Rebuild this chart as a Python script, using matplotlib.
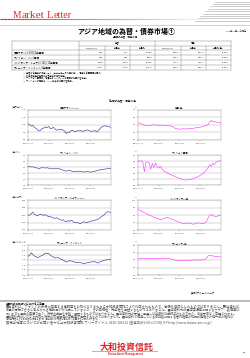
import matplotlib
matplotlib.use('Agg')
import matplotlib.pyplot as plt
from matplotlib.collections import LineCollection
import numpy as np
import pandas as pd

plt.rcParams['font.family'] = ['Noto Sans CJK JP', 'DejaVu Sans']

# ---- data (weekly, 2015/12/31 - 2016/12/30) ----
krw = [10.20, 10.05, 9.85, 9.95, 9.70, 9.55, 9.35, 9.20, 9.30, 9.55, 9.60, 9.75, 9.65,
       9.80, 9.50, 9.55, 9.70, 9.45, 9.30, 9.40, 9.35, 9.45, 9.30, 9.20, 8.85, 9.05,
       9.00, 9.25, 9.30, 9.15, 9.10, 9.25, 9.20, 9.30, 9.15, 9.20, 9.25, 9.35, 9.30,
       9.20, 9.15, 9.20, 9.25, 9.10, 9.20, 9.45, 9.70, 9.80, 9.90, 9.85, 9.80, 9.77, 9.69]
kr_bond = [1.66, 1.62, 1.58, 1.55, 1.50, 1.46, 1.45, 1.45, 1.48, 1.50, 1.52, 1.50, 1.49,
           1.47, 1.50, 1.48, 1.47, 1.46, 1.48, 1.45, 1.44, 1.42, 1.38, 1.30, 1.25, 1.24,
           1.22, 1.23, 1.25, 1.24, 1.23, 1.25, 1.26, 1.25, 1.27, 1.28, 1.32, 1.34, 1.33,
           1.35, 1.38, 1.40, 1.45, 1.48, 1.52, 1.70, 1.80, 1.72, 1.74, 1.70, 1.68, 1.67, 1.64]
php = [2.56, 2.55, 2.50, 2.52, 2.48, 2.45, 2.40, 2.38, 2.42, 2.44, 2.43, 2.42, 2.44,
       2.40, 2.36, 2.34, 2.36, 2.35, 2.37, 2.36, 2.34, 2.30, 2.24, 2.18, 2.16, 2.20,
       2.22, 2.18, 2.14, 2.12, 2.12, 2.14, 2.16, 2.13, 2.10, 2.08, 2.10, 2.12, 2.10,
       2.08, 2.09, 2.12, 2.15, 2.18, 2.22, 2.26, 2.30, 2.30, 2.32, 2.34, 2.36, 2.37, 2.36]
ph_bond = [4.00, 3.98, 4.02, 3.95, 3.10, 3.90, 3.92, 3.85, 3.30, 3.80, 3.45, 3.85, 3.50,
           3.40, 3.55, 3.35, 3.20, 3.10, 3.05, 2.98, 2.90, 2.85, 2.78, 2.72, 2.66, 2.60,
           2.55, 2.50, 2.46, 2.43, 2.42, 2.42, 2.44, 2.47, 2.50, 2.55, 2.60, 2.65, 2.72,
           2.80, 2.88, 2.98, 3.10, 3.25, 3.45, 3.70, 3.55, 3.80, 3.70, 3.90, 3.95, 4.00, 4.02]
idr = [0.852, 0.848, 0.858, 0.870, 0.855, 0.850, 0.845, 0.852, 0.855, 0.850, 0.848, 0.852,
       0.845, 0.838, 0.840, 0.835, 0.830, 0.828, 0.832, 0.825, 0.820, 0.815, 0.818, 0.810,
       0.805, 0.812, 0.808, 0.815, 0.810, 0.800, 0.798, 0.802, 0.795, 0.792, 0.800, 0.805,
       0.802, 0.798, 0.803, 0.808, 0.810, 0.812, 0.815, 0.818, 0.822, 0.830, 0.838, 0.845,
       0.852, 0.865, 0.872, 0.870, 0.868]
id_bond = [8.70, 8.62, 8.55, 8.40, 8.30, 8.20, 8.10, 7.95, 7.90, 7.80, 7.70, 7.65, 7.55,
           7.50, 7.35, 7.40, 7.55, 7.60, 7.70, 7.65, 7.55, 7.45, 7.40, 7.30, 7.20, 7.10,
           7.05, 6.95, 6.90, 6.85, 6.88, 6.95, 6.90, 6.85, 6.80, 6.78, 6.85, 6.92, 6.95,
           6.90, 6.88, 6.85, 6.95, 7.10, 7.60, 7.95, 8.05, 7.90, 7.85, 7.80, 7.85, 7.95, 7.90]
myr = [27.4, 27.8, 28.9, 28.2, 27.6, 27.3, 27.0, 27.2, 27.6, 27.8, 28.3, 28.8, 28.5,
       28.6, 28.0, 27.5, 27.2, 26.8, 26.9, 27.0, 26.5, 26.2, 26.0, 25.6, 25.2, 25.4,
       25.8, 25.6, 25.5, 25.2, 25.0, 24.9, 25.1, 25.0, 24.7, 24.5, 24.7, 24.9, 25.0,
       25.1, 25.3, 25.2, 25.4, 25.0, 24.8, 25.2, 25.5, 25.7, 25.9, 26.0, 26.2, 26.2, 26.1]
my_bond = [3.20, 3.22, 3.18, 3.20, 3.15, 3.18, 3.20, 3.22, 3.18, 3.20, 3.22, 3.20, 3.18,
           3.20, 3.22, 3.24, 3.20, 3.18, 3.20, 3.22, 3.20, 3.10, 3.05, 3.00, 2.98, 2.95,
           2.92, 2.95, 2.98, 2.96, 2.95, 2.97, 2.98, 2.96, 2.98, 3.00, 3.02, 3.00, 2.98,
           3.00, 3.02, 3.05, 3.10, 3.20, 3.55, 3.60, 3.58, 3.55, 3.50, 3.48, 3.46, 3.43, 3.42]

dates = pd.date_range('2015-12-31', periods=len(krw), freq='7D')

# table
row_labels = ['韓国ウォン(×100)/3年国債', 'フィリピン・ペソ/国債',
              'インドネシア・ルピア(×100)/10年国債', 'マレーシア・リンギット/3年国債']
fx_now = ['9.69', '2.36', '0.868', '26.10']
fx_prev = ['9.77', '2.36', '0.872', '26.22']
fx_chg = ['-0.80%', '0.03%', '-0.44%', '-0.47%']
bd_now = ['1.64%', '3.95%', '7.87%', '3.42%']
bd_prev = ['1.67%', '4.03%', '7.88%', '3.43%']
bd_chg = ['-0.03%', '-0.08%', '-0.01%', '-0.01%']
col_heads = ['2016/12/30', '前週末', '前週比', '2016/12/30', '前週末', '前週比(差)']

xtick_dates = ['2015-12-31', '2016-03-31', '2016-06-30', '2016-09-30']
xtick_labels = ['2015/12/31', '2016/3/31', '2016/6/30', '2016/9/30']

RED = '#d42a2a'
NAVY = '#3c3c9c'
PINK = '#ff40ff'

W, H = 250, 358
fig = plt.figure(figsize=(2.5, 3.58), dpi=100)
bg = fig.add_axes([0, 0, 1, 1])
bg.set_xlim(0, W)
bg.set_ylim(H, 0)
bg.axis('off')
renderer = fig.canvas.get_renderer()


def fit(t, width):
    bb = t.get_window_extent(renderer)
    t.set_fontsize(t.get_fontsize() * width / bb.width)
    return t


# ---- header ----
serif = 'Liberation Serif'
fit(bg.text(13, 17.5, 'M', color=RED, fontsize=10, family=serif), 8.5)
fit(bg.text(22, 17.5, 'arket', color=RED, fontsize=7, family=serif), 23)
fit(bg.text(47, 17.5, 'L', color=RED, fontsize=10, family=serif), 6.5)
fit(bg.text(54, 17.5, 'etter', color=RED, fontsize=7, family=serif), 18)

xs = np.linspace(0, 205, 60)
segs = [[(xs[i], 18.6), (xs[i + 1], 18.6)] for i in range(len(xs) - 1)]
alphas = np.linspace(1, 0.05, len(segs))
bg.add_collection(LineCollection(segs, colors=[(0.83, 0.16, 0.16, a) for a in alphas], linewidths=0.8))
bg.plot([0, 250], [24.5, 24.5], color='#c8c8c8', lw=0.6)
for i, y in enumerate(np.arange(1.5, 23, 2.4)):
    bg.plot([215 - i * 2.5, 250], [y, y], color='#b8b8b8', lw=0.5)

bg.text(247, 31, '2016年12月30日現在', fontsize=1.6, ha='right', va='center', color='#333333')
bg.text(126, 31, 'アジア地域の為替・債券市場①', fontsize=5, fontweight='bold', ha='center', va='center')
bg.text(125, 37.5, '1週間の為替・債券市場', fontsize=1.7, ha='center', va='center')

# ---- table ----
L, C1, R = 12, 79, 231
cols = [79, 104.5, 130, 155, 180.5, 206, 231]
ys = [41, 45.5, 50, 55, 60, 65, 70]
lc = '#8a8a8a'
lw = 0.35
bg.plot([L, R], [41, 41], color=lc, lw=lw)
bg.plot([C1, R], [45.5, 45.5], color=lc, lw=lw)
for y in ys[2:]:
    bg.plot([L, R], [y, y], color=lc, lw=lw)
for x in [L, C1, 155, R]:
    bg.plot([x, x], [41, 70], color=lc, lw=lw)
for x in [104.5, 130, 180.5, 206]:
    bg.plot([x, x], [45.5, 70], color=lc, lw=lw)
bg.text(117, 43.3, '為替', fontsize=1.7, ha='center', va='center')
bg.text(193, 43.3, '債券', fontsize=1.7, ha='center', va='center')
for i, h in enumerate(col_heads):
    bg.text((cols[i] + cols[i + 1]) / 2, 47.8, h, fontsize=1.6, ha='center', va='center')
for r in range(4):
    yc = (ys[r + 2] + ys[r + 3]) / 2
    bg.text(14, yc, row_labels[r], fontsize=1.8, ha='left', va='center')
    vals = [fx_now[r], fx_prev[r], fx_chg[r], bd_now[r], bd_prev[r], bd_chg[r]]
    for i, v in enumerate(vals):
        bg.text(cols[i + 1] - 1.5, yc, v, fontsize=1.7, ha='right', va='center')

notes = ['※  為替は各通貨の対円レート（ニューヨーク市場終値）、債券は各国国債利回り。',
         '※  外貨建資産の為替は前営業日の値を使用。',
         '※  フィリピン国債は、償還日が 2026/1/14 の国債の利回りを使用。',
         '※  フィリピンの債券は、12:30時点の利回りを記載。']
for i, n in enumerate(notes):
    bg.text(23, 73.3 + i * 2.7, n, fontsize=1.5, ha='left', va='center')

bg.text(123, 100, '1年間の為替・債券市場', fontsize=1.9, ha='center', va='center')

# ---- charts ----
charts = [
    (0, 0, '韓国ウォン(×100)', '(円/ウォン)', krw, (8, 12), np.arange(8, 12.1, 1.0), '%.1f', NAVY),
    (0, 1, '韓国3年', '%', kr_bond, (0.5, 2.5), np.arange(0.5, 2.6, 0.5), '%.1f', PINK),
    (1, 0, 'フィリピン・ペソ', '(円/ペソ)', php, (1.0, 3.5), np.arange(1.0, 3.6, 0.5), '%.1f', NAVY),
    (1, 1, 'フィリピン国債', '%', ph_bond, (2.0, 4.5), np.arange(2.0, 4.6, 0.5), '%.1f', PINK),
    (2, 0, 'インドネシア・ルピア(×100)', '(円/ルピア)', idr, (0.75, 0.95), np.arange(0.75, 0.951, 0.05), '%.2f', NAVY),
    (2, 1, 'インドネシア10年', '%', id_bond, (6.0, 10.0), np.arange(6, 10.1, 1.0), '%.1f', PINK),
    (3, 0, 'マレーシア・リンギット', '(円/リンギット)', myr, (20, 32), np.arange(20, 32.1, 2.0), '%.1f', NAVY),
    (3, 1, 'マレーシア3年', '%', my_bond, (1.0, 5.0), np.arange(1, 5.1, 1.0), '%.1f', PINK),
]
x0s = [28, 138]
x1s = [111, 221]
tops = [110, 155, 200, 245]
bh = 30
for row, side, title, unit, vals, ylim, yt, fmt, color in charts:
    x0, x1, top = x0s[side], x1s[side], tops[row]
    ax = fig.add_axes([x0 / W, 1 - (top + bh) / H, (x1 - x0) / W, bh / H])
    ax.plot(dates, vals, color=color, lw=0.45)
    ax.set_xlim(pd.Timestamp('2015-12-31'), pd.Timestamp('2016-12-30'))
    ax.set_ylim(*ylim)
    ax.set_yticks(yt)
    ax.set_yticklabels([fmt % v for v in yt])
    ax.set_xticks(pd.to_datetime(xtick_dates))
    ax.set_xticklabels(xtick_labels)
    ax.grid(axis='y', color='#a8a8a8', lw=0.3)
    ax.tick_params(labelsize=1.5, length=1, width=0.3, pad=0.8, colors='#444444')
    for s in ax.spines.values():
        s.set_color('#909090')
        s.set_linewidth(0.3)
    bg.text((x0 + x1) / 2, top - 1.8, title, fontsize=1.7, ha='center', va='center')
    bg.text(x0 - 16 if side == 0 else x0 - 3, top - 3, unit, fontsize=1.5, ha='left', va='center')

bg.text(215, 293, '(出所)ブルームバーグ', fontsize=1.8, ha='right', va='center')

# ---- footer ----
bg.add_patch(plt.Rectangle((0, 299.5), 250, 2.2, color='#bcbcbc', lw=0))
bg.text(6, 304.2, '当資料のお取扱いにおけるご注意', fontsize=1.9, fontweight='bold', ha='left', va='center')
disc = ['■当資料は、ファンドの状況や関連する情報等をお知らせするために大和投資信託により作成されたもので、勧誘を目的としたものではありません。■当資料は、',
        '各種の信頼できると考えられる情報源から作成していますが、その正確性・完全性を保証するものではありません。■当資料内の運用実績等に関するグラフ・数値等は',
        'あくまでも過去の実績であり、将来の成果を示唆・保証するものではありません。■当資料内の予想・見通しは当資料作成時点のものであり、今後予告なく変更されます。',
        '■当資料内のいかなる内容も将来の市場環境の変動等を保証するものではありません。■当資料で使用している各指数に関する著作権等の知的財産権その他一切の権利は、',
        'その発行者および許諾者に帰属します。■当資料の内容は予告なく変更することがあります。']
for i, d in enumerate(disc):
    t = bg.text(6, 307.3 + i * 3, d, fontsize=1.6, ha='left', va='center', color='#555555')
    if i < 4:
        fit(t, 239)
t = bg.text(6, 322.3, '販売会社等についてのお問い合わせ⇒大和投資信託 フリーダイヤル 0120-106212 (営業日の9:00～17:00) HP http://www.daiwa-am.co.jp/',
            fontsize=1.6, ha='left', va='center', color='#555555')
fit(t, 208)

fit(bg.text(127, 347, '大和投資信託', fontsize=6, fontweight='bold', color=RED, ha='center', va='center'), 54)
bg.plot([92, 157], [351, 351], color='#e0a040', lw=0.6)
fit(bg.text(125, 353.7, 'Daiwa Asset Management', fontsize=2, color=RED, fontweight='bold', ha='center', va='center'), 35)
bg.text(246, 352, '3/8', fontsize=1.7, ha='right', va='center')

fig.savefig('out.png', dpi=100)
